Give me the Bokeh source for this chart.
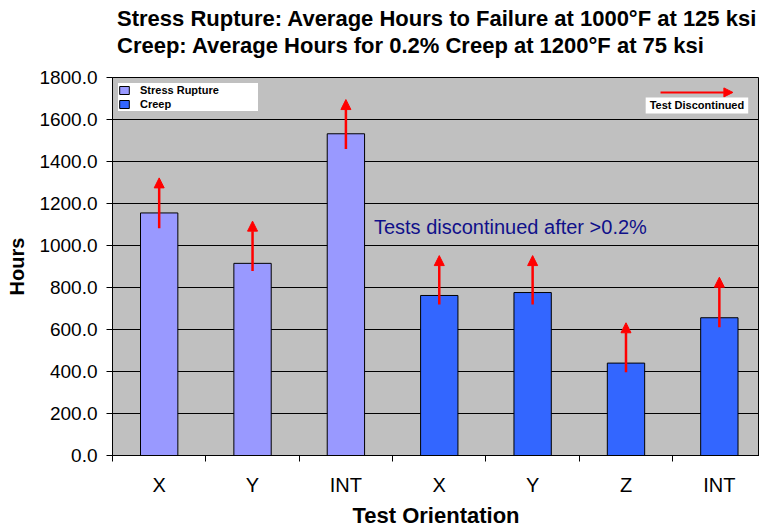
import numpy as np
from bokeh.plotting import figure
from bokeh.layouts import column
from bokeh.models import (Range1d, FixedTicker, PrintfTickFormatter, Arrow, NormalHead,
                          Label, Legend, LegendItem, ColumnDataSource, Div)
from bokeh.embed import file_html
from bokeh.resources import INLINE

# ---- data ----
orientations = ["X", "Y", "INT", "X", "Y", "Z", "INT"]
stress_rupture_hours = [1155, 915, 1532]
creep_hours = [762, 776, 440, 656]
arrow_from = [1082, 878, 1460, 719, 719, 397, 611]
arrow_to = [1322, 1116, 1695, 952, 952, 632, 849]
y_ticks = [0, 200, 400, 600, 800, 1000, 1200, 1400, 1600, 1800]
title_lines = ["Stress Rupture: Average Hours to Failure at 1000°F at 125 ksi",
               "Creep: Average Hours for 0.2% Creep at 1200°F at 75 ksi"]

FONT = "Liberation Sans"
n = len(orientations)
centers = [i + 0.5 for i in range(n)]
n_sr = len(stress_rupture_hours)
sr_src = ColumnDataSource(dict(x=centers[:n_sr], top=stress_rupture_hours))
cr_src = ColumnDataSource(dict(x=centers[n_sr:], top=creep_hours))
arr_src = ColumnDataSource(dict(x=centers, y0=arrow_from, y1=arrow_to))

# title block
title_div = Div(text="<br>".join(title_lines), width=759, height=60,
                margin=(0, 0, 0, 0),
                styles={"font-family": FONT, "font-size": "22px",
                        "font-weight": "bold", "line-height": "27px",
                        "color": "black", "padding-top": "5px",
                        "padding-left": "117px", "white-space": "nowrap"})

p = figure(width=759, height=471, output_backend="svg", toolbar_location=None,
           title=None,
           x_range=Range1d(0, 6.93), y_range=Range1d(0, 1800),
           min_border_left=112, min_border_right=0, min_border_top=17,
           min_border_bottom=76)
p.background_fill_color = "#C0C0C0"
p.border_fill_color = "white"
p.outline_line_color = "black"
p.outline_line_width = 1

# bars
r_sr = p.vbar(x="x", top="top", width=0.4, source=sr_src,
              fill_color="#9999FF", line_color="black", line_width=1)
r_cr = p.vbar(x="x", top="top", width=0.4, source=cr_src,
              fill_color="#3366FF", line_color="black", line_width=1)

# arrows
p.add_layout(Arrow(x_start="x", y_start="y0", x_end="x", y_end="y1", source=arr_src,
                   line_color="red", line_width=2.5,
                   end=NormalHead(size=10, fill_color="red", line_color="red")))

# y axis
yax = p.yaxis[0]
yax.ticker = FixedTicker(ticks=y_ticks)
yax.formatter = PrintfTickFormatter(format="%.1f")
yax.axis_label = "Hours"
yax.axis_label_text_font = FONT
yax.axis_label_text_font_size = "20px"
yax.axis_label_text_font_style = "bold"
yax.axis_label_text_color = "black"
yax.axis_label_standoff = 8
yax.major_label_text_font = FONT
yax.major_label_text_font_size = "19px"
yax.major_label_text_color = "black"
yax.major_label_standoff = 9
yax.major_tick_out = 6
yax.major_tick_in = 0
yax.minor_tick_line_color = None
yax.axis_line_color = "black"
yax.major_tick_line_color = "black"

# x axis
xax = p.xaxis[0]
xax.ticker = FixedTicker(ticks=centers, minor_ticks=list(range(n + 1)))
xax.major_label_overrides = {c: lab for c, lab in zip(centers, orientations)}
xax.major_tick_line_color = None
xax.major_tick_out = 0
xax.major_tick_in = 0
xax.minor_tick_line_color = "black"
xax.minor_tick_out = 6
xax.minor_tick_in = 0
xax.major_label_standoff = 12
xax.major_label_text_font = FONT
xax.major_label_text_font_size = "20px"
xax.major_label_text_color = "black"
xax.axis_line_color = "black"
xax.axis_label = "Test Orientation"
xax.axis_label_text_font = FONT
xax.axis_label_text_font_size = "22px"
xax.axis_label_text_font_style = "bold"
xax.axis_label_text_color = "black"
xax.axis_label_standoff = 4

p.xgrid.grid_line_color = None
p.ygrid.grid_line_color = "black"
p.ygrid.grid_line_width = 1

# legend
legend = Legend(items=[LegendItem(label="Stress Rupture", renderers=[r_sr]),
                       LegendItem(label="Creep", renderers=[r_cr])],
                location="top_left", margin=6, padding=3, spacing=0,
                glyph_width=12, glyph_height=10, label_height=14, label_width=118,
                label_standoff=10, background_fill_color="white",
                background_fill_alpha=1, border_line_color=None,
                label_text_font=FONT, label_text_font_size="11px",
                label_text_font_style="bold", label_text_color="black")
p.add_layout(legend)

# annotation texts
p.add_layout(Label(x=2.80, y=1090, text="Tests discontinued after >0.2%",
                   text_font=FONT, text_font_size="20px", text_color="#10108A",
                   text_baseline="middle"))
p.add_layout(Label(x=6.26, y=1667, text="Test Discontinued", text_font=FONT,
                   text_font_size="11px", text_font_style="bold", text_color="black",
                   text_align="center", text_baseline="middle",
                   background_fill_color="white", background_fill_alpha=1,
                   padding=dict(left=4, right=4, top=2, bottom=2)))
p.add_layout(Arrow(x_start=5.87, y_start=1729, x_end=6.645, y_end=1729,
                   line_color="red", line_width=2,
                   end=NormalHead(size=9, fill_color="red", line_color="red")))

layout = column(title_div, p, spacing=0)
open("out.html", "w").write(file_html(layout, INLINE))
